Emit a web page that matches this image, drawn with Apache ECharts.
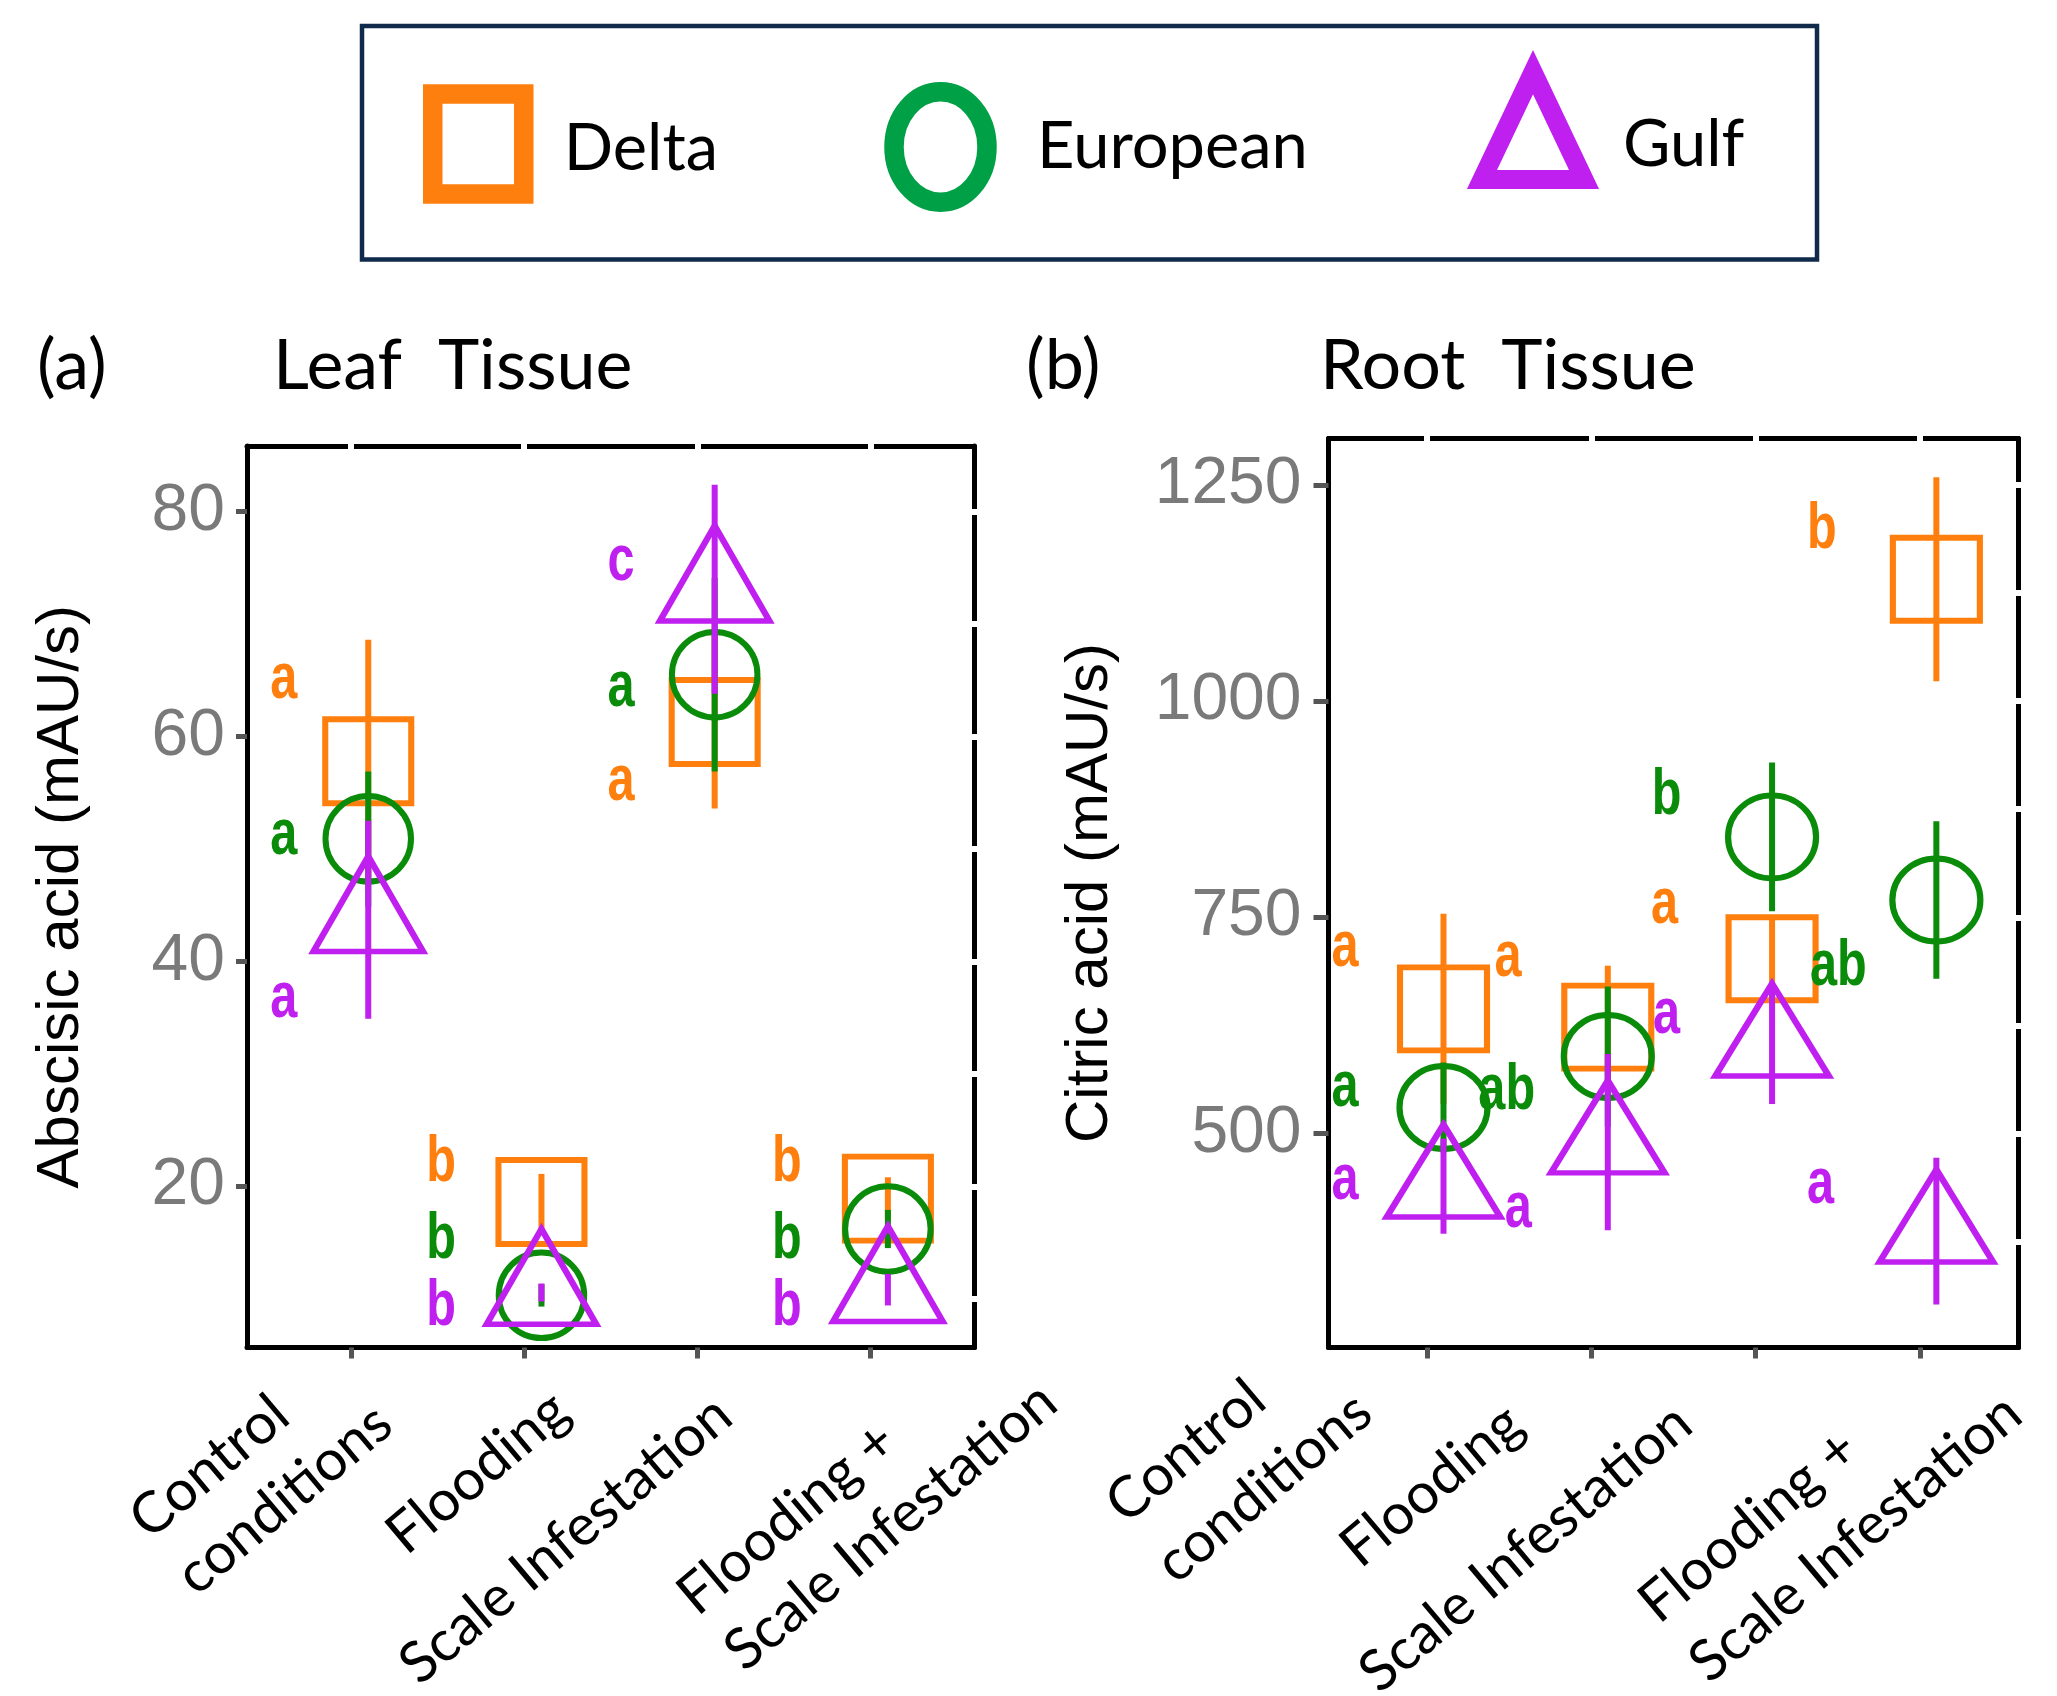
<!DOCTYPE html>
<html>
<head>
<meta charset="utf-8">
<title>Leaf and Root Tissue</title>
<script src="https://cdn.jsdelivr.net/npm/echarts@6.0.0/dist/echarts.min.js"></script>
<style>
html, body { margin: 0; padding: 0; background: #ffffff; }
#chart { width: 2057px; height: 1696px; }
</style>
</head>
<body>
<div id="chart"></div>
<script>
// ---------------- data ----------------
const categories = ['Control\nconditions', 'Flooding', 'Scale Infestation', 'Flooding +\nScale Infestation'];
const groups = ['Delta', 'European', 'Gulf'];

// (a) Leaf tissue: abscisic acid (mAU/s), mean and error half-width
const leafDelta = [57.8, 18.6, 61.3, 18.9];
const leafDeltaErr = [10.8, 2.5, 7.7, 1.9];
const leafEuropean = [50.9, 10.3, 65.5, 16.2];
const leafEuropeanErr = [6.0, 1.0, 8.6, 1.7];
const leafGulf = [43.7, 10.55, 73.1, 10.8];
const leafGulfErr = [8.8, 0.8, 9.3, 1.4];

// (b) Root tissue: citric acid (mAU/s), mean and error half-width
const rootDelta = [644, 623, 702, 1141];
const rootDeltaErr = [110, 71, 45, 118];
const rootEuropean = [530, 589, 843, 770];
const rootEuropeanErr = [52, 81, 86, 91];
const rootGulf = [439, 490, 602, 387];
const rootGulfErr = [55, 102, 68, 85];

// significance letters, [category][Delta, European, Gulf]
const leafLetters = [['a', 'a', 'a'], ['b', 'b', 'b'], ['a', 'a', 'c'], ['b', 'b', 'b']];
const leafLetterY = [[65.0, 51.1, 36.6], [22.0, 15.2, 9.2], [55.95, 64.3, 75.5], [22.0, 15.2, 9.2]];
const rootLetters = [['a', 'a', 'a'], ['a', 'ab', 'a'], ['a', 'b', 'a'], ['b', 'ab', 'a']];
const rootLetterY = [[714, 552, 445], [703, 549, 412], [764, 890, 636], [1197, 692, 440]];

// tick values
const xTicks = [1, 2, 3, 4];
const leafYTicks = [20, 40, 60, 80];
const rootYTicks = [500, 750, 1000, 1250];
const leafFrameTicks = [10, 20, 30, 40, 50, 60, 70, 80];
const rootFrameTicks = [375, 500, 625, 750, 875, 1000, 1125, 1250];

// ---------------- style / layout ----------------
const COLORS = ['#FF7F0E', '#0A8B0A', '#BF1FEF'];
const LEGEND_COLORS = ['#FF7F0E', '#00A046', '#BF1FEF'];
const DODGE = 0.1; // markers sit slightly right of their tick
const TXT = 'Lato, "Noto Sans", sans-serif';
const NUM = '"Liberation Sans", Arial, sans-serif';
const LET = '"Liberation Sans", Arial, sans-serif';
const ELLIPSE = 'path://M0,50 A50,50 0 1 1 100,50 A50,50 0 1 1 0,50 Z';

const panels = [
  {
    grid: { left: 247, top: 446, width: 727.5, height: 901.5 },
    labelGrid: { left: 247, top: 446, width: 900.7, height: 901.5 }, labelMax: 5.6,
    yMin: 5.66, yMax: 85.84, yTicks: leafYTicks, frameTicks: leafFrameTicks,
    means: [leafDelta, leafEuropean, leafGulf], errs: [leafDeltaErr, leafEuropeanErr, leafGulfErr],
    letters: leafLetters, letterY: leafLetterY,
    letterDx: [[-0.387, -0.387, -0.387], [-0.479, -0.479, -0.479], [-0.44, -0.44, -0.44], [-0.483, -0.483, -0.483]],
    symbols: [
      { symbol: 'rect', size: [86, 84], offset: [0, 0] },
      { symbol: 'circle', size: [85.5, 85.5], offset: [0, 0] },
      { symbol: 'triangle', size: [109.6, 95.3], offset: [0, -15.9] }
    ],
    name: 'Abscisic acid (mAU/s)', nameGap: 156, labelMargin: 22, tickLen: 11,
    labelPos: [1.291, 2.55, 3.522, 4.978], labelPad: [53, 76.5, 83.4, 19], lineH: 73
  },
  {
    grid: { left: 1328.5, top: 438.5, width: 690, height: 909 },
    labelGrid: { left: 1328.5, top: 438.5, width: 722.9, height: 909 }, labelMax: 4.8,
    yMin: 252.4, yMax: 1303.8, yTicks: rootYTicks, frameTicks: rootFrameTicks,
    means: [rootDelta, rootEuropean, rootGulf], errs: [rootDeltaErr, rootEuropeanErr, rootGulfErr],
    letters: rootLetters, letterY: rootLetterY,
    letterDx: [[-0.5, -0.5, -0.5], [-0.507, -0.515, -0.445], [-0.554, -0.542, -0.542], [-0.597, -0.496, -0.605]],
    symbols: [
      { symbol: 'rect', size: [87, 83], offset: [0, 0] },
      { symbol: 'circle', size: [88, 83], offset: [0, 0] },
      { symbol: 'triangle', size: [113.6, 92.4], offset: [0, -15.4] }
    ],
    name: 'Citric acid (mAU/s)', nameGap: 208, labelMargin: 27, tickLen: 15,
    labelPos: [0.611, 1.987, 3.011, 4.577], labelPad: [32, 97.2, 96.3, 34.2], lineH: 78
  }
];

const grids = [], xAxes = [], yAxes = [], series = [];

panels.forEach((p) => {
  grids.push(Object.assign({ outerBoundsMode: 'none', containLabel: false }, p.grid));
});
panels.forEach((p) => {
  grids.push(Object.assign({ outerBoundsMode: 'none', containLabel: false }, p.labelGrid));
});

panels.forEach((p, pi) => {
  const gi = pi;
  const mainX = xAxes.length;
  // bottom axis (frame + ticks)
  xAxes.push({
    type: 'value', gridIndex: gi, position: 'bottom', min: 0.4, max: 4.6,
    axisLine: { show: true, onZero: false, lineStyle: { color: '#000', width: 5 } },
    axisTick: { show: true, customValues: xTicks, length: 11, lineStyle: { color: '#555', width: 5 } },
    axisLabel: { show: false }, splitLine: { show: false }
  });
  // top frame with white notches
  xAxes.push({
    type: 'value', gridIndex: gi, position: 'top', min: 0.4, max: 4.6,
    axisLine: { show: true, onZero: false, lineStyle: { color: '#000', width: 5 } },
    axisTick: { show: true, customValues: xTicks, length: 1, lineStyle: { color: '#fff', width: 6, cap: 'square' } },
    axisLabel: { show: false }, splitLine: { show: false }
  });
  const mainY = yAxes.length;
  yAxes.push({
    type: 'value', gridIndex: gi, position: 'left', min: p.yMin, max: p.yMax,
    axisLine: { show: true, onZero: false, lineStyle: { color: '#000', width: 5 } },
    axisTick: { show: true, customValues: p.yTicks, length: p.tickLen, lineStyle: { color: '#555', width: 5 } },
    axisLabel: { show: true, customValues: p.yTicks, margin: p.labelMargin, color: '#7a7a7a', fontSize: 66, fontFamily: NUM,
                 formatter: (v) => String(v) },
    splitLine: { show: false },
    name: p.name, nameLocation: 'middle', nameGap: p.nameGap, nameRotate: 90, nameMoveOverlap: false,
    nameTextStyle: { color: '#000', fontSize: 60, fontFamily: NUM }
  });
  yAxes.push({
    type: 'value', gridIndex: gi, position: 'right', min: p.yMin, max: p.yMax,
    axisLine: { show: true, onZero: false, lineStyle: { color: '#000', width: 5 } },
    axisTick: { show: true, customValues: p.frameTicks, length: 1, lineStyle: { color: '#fff', width: 6, cap: 'square' } },
    axisLabel: { show: false }, splitLine: { show: false }
  });

  // series: error bar then marker, for Delta, European, Gulf
  groups.forEach((g, k) => {
    const color = COLORS[k];
    const means = p.means[k], errs = p.errs[k];
    series.push({
      type: 'custom', name: g + ' error', xAxisIndex: mainX, yAxisIndex: mainY, silent: true,
      data: means.map((m, i) => [xTicks[i], m - errs[i], m + errs[i]]),
      encode: { x: 0, y: [1, 2] },
      renderItem: (params, api) => {
        const x = api.value(0) + DODGE;
        const a = api.coord([x, api.value(1)]);
        const b = api.coord([x, api.value(2)]);
        return { type: 'line', z2: 100, shape: { x1: a[0], y1: a[1], x2: b[0], y2: b[1] },
                 style: { stroke: color, lineWidth: 6 } };
      }
    });
    const s = p.symbols[k];
    series.push({
      type: 'scatter', name: g, xAxisIndex: mainX, yAxisIndex: mainY, silent: true,
      data: means.map((m, i) => [xTicks[i] + DODGE, m]),
      symbol: s.symbol, symbolSize: s.size, symbolOffset: s.offset, symbolKeepAspect: false,
      itemStyle: { color: 'rgba(0,0,0,0)', borderColor: color, borderWidth: 6, borderJoin: 'miter', opacity: 1 },
      emphasis: { disabled: true }
    });
  });

  // significance letters
  const items = [], meta = [];
  p.letters.forEach((row, c) => row.forEach((t, k) => {
    items.push([xTicks[c] + p.letterDx[c][k], p.letterY[c][k]]);
    meta.push({ t: t, color: COLORS[k] });
  }));
  series.push({
    type: 'custom', name: 'letters ' + pi, xAxisIndex: mainX, yAxisIndex: mainY, silent: true,
    data: items, encode: { x: 0, y: 1 },
    renderItem: (params, api) => {
      const pt = api.coord([api.value(0), api.value(1)]);
      const m = meta[params.dataIndex];
      return { type: 'text', z2: 200, x: pt[0], y: pt[1], scaleX: 0.76, scaleY: 1,
               style: { text: m.t, fill: m.color, fontSize: 64, fontWeight: 'bold', fontFamily: LET,
                        align: 'center', verticalAlign: 'middle' } };
    }
  });
});

// category label axes (share the panel's x scale, extended to the right)
panels.forEach((p, pi) => {
  const gi = 2 + pi;
  const rich = { t: { fontFamily: TXT, fontSize: 57, color: '#000', lineHeight: p.lineH, align: 'left' } };
  p.labelPad.forEach((w, i) => {
    rich['p' + i] = { fontFamily: TXT, fontSize: 57, lineHeight: p.lineH, width: w, align: 'left' };
  });
  xAxes.push({
    type: 'value', gridIndex: gi, position: 'bottom', min: 0.4, max: p.labelMax,
    axisLine: { show: false, onZero: false }, axisTick: { show: false }, splitLine: { show: false },
    axisLabel: {
      show: true, customValues: p.labelPos, rotate: 40, margin: 6, align: 'right', verticalAlign: 'middle',
      hideOverlap: false,
      formatter: (val) => {
        let idx = 0, best = Infinity;
        p.labelPos.forEach((v, i) => { const d = Math.abs(v - val); if (d < best) { best = d; idx = i; } });
        const lines = categories[idx].split('\n');
        let li = 0;
        lines.forEach((l, k) => { if (l.length > lines[li].length) li = k; });
        return lines.map((l, k) => '{t|' + l + '}' + (k === li ? '{p' + idx + '| }' : '')).join('\n');
      },
      rich: rich
    }
  });
  yAxes.push({ type: 'value', gridIndex: gi, show: false, min: 0, max: 1 });
});

function legendText(padTop, padBottom, padLeft) {
  return {
    formatter: (name) => '{t|' + name + '}',
    textStyle: {
      fontFamily: TXT, fontSize: 65, color: '#000',
      rich: { t: { fontFamily: TXT, fontSize: 65, color: '#000', padding: [padTop, 0, padBottom, padLeft] } }
    }
  };
}

const option = {
  animation: false,
  backgroundColor: '#ffffff',
  textStyle: { fontFamily: TXT },
  title: [
    { text: '(a)', left: 37, top: 331, padding: 0, textStyle: { fontFamily: TXT, fontSize: 70, fontWeight: 'normal', color: '#000' } },
    { text: 'Leaf  Tissue', left: 273, top: 331, padding: 0, textStyle: { fontFamily: TXT, fontSize: 70, fontWeight: 'normal', color: '#000' } },
    { text: '(b)', left: 1026, top: 331, padding: 0, textStyle: { fontFamily: TXT, fontSize: 70, fontWeight: 'normal', color: '#000' } },
    { text: 'Root  Tissue', left: 1320, top: 331, padding: 0, textStyle: { fontFamily: TXT, fontSize: 70, fontWeight: 'normal', color: '#000' } }
  ],
  legend: [
    Object.assign({
      left: 423, top: 84.25, padding: 0, itemWidth: 91, itemHeight: 100, selectedMode: false,
      data: [{ name: 'Delta', icon: 'rect',
               itemStyle: { color: 'rgba(0,0,0,0)', borderColor: LEGEND_COLORS[0], borderWidth: 19.5, borderJoin: 'miter' } }]
    }, legendText(11, 0, 35)),
    Object.assign({
      left: 884.25, top: 82, padding: 0, itemWidth: 93, itemHeight: 110.5, selectedMode: false, symbolKeepAspect: false,
      data: [{ name: 'European', icon: ELLIPSE,
               itemStyle: { color: 'rgba(0,0,0,0)', borderColor: LEGEND_COLORS[1], borderWidth: 19.5 } }]
    }, legendText(0, 0, 45)),
    Object.assign({
      left: 1472.5, top: 62.7, padding: 0, itemWidth: 102, itemHeight: 107.3, selectedMode: false,
      data: [{ name: 'Gulf', icon: 'triangle',
               itemStyle: { color: 'rgba(0,0,0,0)', borderColor: LEGEND_COLORS[2], borderWidth: 19, borderJoin: 'miter', borderMiterLimit: 10 } }]
    }, legendText(39, 0, 34))
  ],
  graphic: [
    { type: 'rect', silent: true, z: -1, shape: { x: 362, y: 26, width: 1455, height: 233.5 },
      style: { fill: 'none', stroke: '#0f2a4a', lineWidth: 4.5 } }
  ],
  grid: grids,
  xAxis: xAxes,
  yAxis: yAxes,
  series: series
};

const chart = echarts.init(document.getElementById('chart'), null, { renderer: 'canvas', width: 2057, height: 1696 });
chart.setOption(option);
</script>
</body>
</html>
